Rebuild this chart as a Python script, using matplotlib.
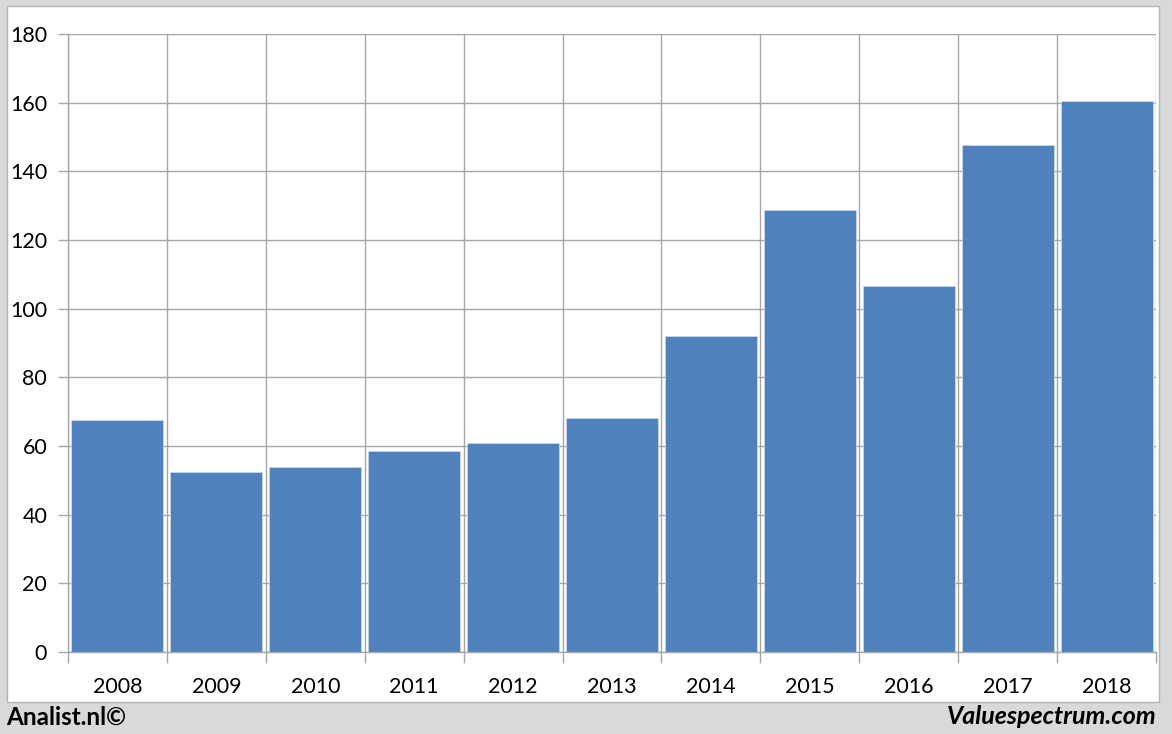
import numpy as np
import matplotlib.pyplot as plt
from matplotlib.patches import Rectangle

years = ['2008', '2009', '2010', '2011', '2012', '2013', '2014', '2015', '2016', '2017', '2018']
values = [67.6, 52.4, 53.9, 58.5, 60.9, 68.2, 92.0, 128.7, 106.6, 147.7, 160.5]
yticks = [0, 20, 40, 60, 80, 100, 120, 140, 160, 180]

plt.rcParams['font.family'] = ['Lato', 'DejaVu Sans']
grid_col = '#a6a6a6'

fig = plt.figure(figsize=(11.72, 7.34), dpi=100, facecolor='#d9d9d9')
W, H = 1172, 734

# white chart panel
fig.patches.append(Rectangle((7 / W, 1 - 702 / H), (1159 - 7) / W, (702 - 6) / H,
                             transform=fig.transFigure, facecolor='white',
                             edgecolor='#b4b4b4', linewidth=1, zorder=-5))

ax = fig.add_axes([68 / W, 82 / H, 1088 / W, 618 / H])
ax.set_facecolor('none')
x = np.arange(len(years))
ax.bar(x, values, width=0.93, color='#4f81bd', edgecolor='#c9d6e8', linewidth=0.6, zorder=3)

ax.set_xlim(-0.5, len(years) - 0.5)
ax.set_ylim(0, 180)
ax.set_yticks(yticks)
ax.set_xticks(x)
ax.set_xticklabels(years)
ax.set_xticks(np.arange(-0.5, len(years)), minor=True)

ax.grid(axis='y', which='major', color=grid_col, linewidth=1, zorder=1)
ax.grid(axis='x', which='minor', color=grid_col, linewidth=1, zorder=1)
ax.tick_params(axis='x', which='major', length=0, pad=18, labelsize=15.5)
ax.tick_params(axis='x', which='minor', length=8, color=grid_col, width=1)
ax.tick_params(axis='y', length=7, color=grid_col, width=1, pad=8, labelsize=15.5)

for s in ['top', 'right']:
    ax.spines[s].set_visible(False)
for s in ['left', 'bottom']:
    ax.spines[s].set_color(grid_col)
    ax.spines[s].set_linewidth(1)
    ax.spines[s].set_zorder(4)

fig.text(6 / W, 1 - 717 / H, 'Analist.nl©', fontsize=17.5, fontweight='bold',
         ha='left', va='center')
fig.text(1157 / W, 1 - 717 / H, 'Valuespectrum.com', fontsize=18, fontweight='bold',
         style='italic', ha='right', va='center')

fig.savefig('out.png', dpi=100, facecolor=fig.get_facecolor())
